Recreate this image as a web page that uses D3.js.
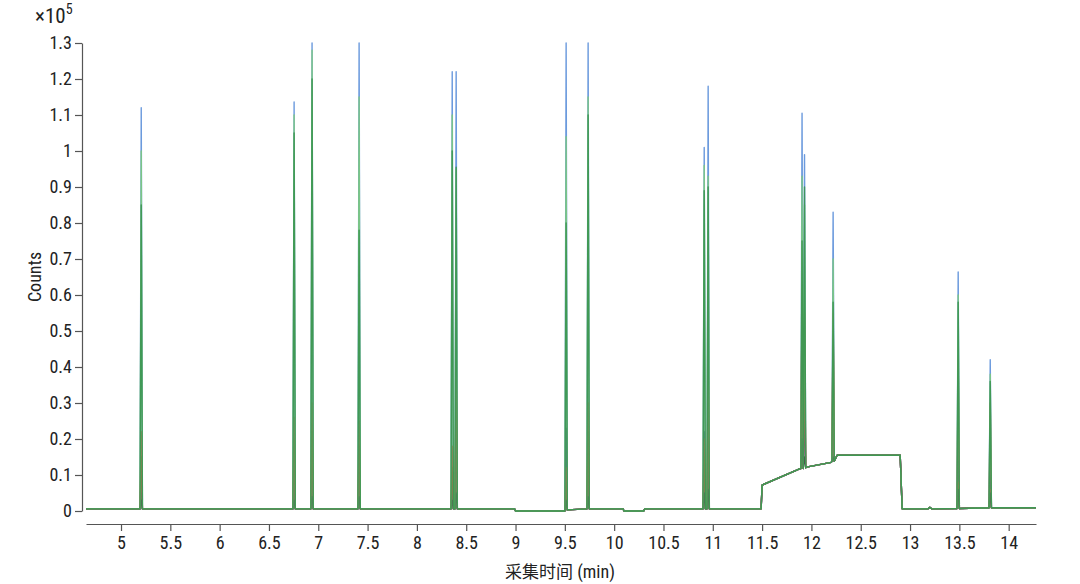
<!DOCTYPE html>
<html><head><meta charset="utf-8">
<script src="https://cdn.jsdelivr.net/npm/d3@7"></script>
<style>
body{margin:0;background:#fff;}
text{font-family:"Liberation Sans Narrow","Roboto Condensed","Liberation Sans",sans-serif;fill:#222;}
</style></head>
<body><svg id="c" width="1080" height="584"></svg>
<script>
// ---- data (Counts in units of 1e5, time in min) ----
const xTicks = [5,5.5,6,6.5,7,7.5,8,8.5,9,9.5,10,10.5,11,11.5,12,12.5,13,13.5,14];
const yTicks = [0,0.1,0.2,0.3,0.4,0.5,0.6,0.7,0.8,0.9,1,1.1,1.2,1.3];

const baseT = [4.645, 8.99, 9.0, 9.5, 9.52, 10.09, 10.1, 10.3, 10.31, 11.49, 11.5, 11.88, 11.95, 12.2, 12.26, 12.9, 12.92, 13.18, 13.2, 13.22, 13.9, 14.277];
const baseV = [0.006, 0.006, 0.0, 0.0, 0.006, 0.006, 0.0, 0.0, 0.006, 0.006, 0.072, 0.117, 0.122, 0.135, 0.155, 0.155, 0.006, 0.006, 0.01, 0.006, 0.009, 0.009];

const peakTimes = [5.205, 6.755, 6.937, 7.414, 8.358, 8.398, 9.513, 9.736, 10.913, 10.953, 11.905, 11.93, 12.22, 13.488, 13.813];
const peakBase  = [0.006, 0.006, 0.006, 0.006, 0.006, 0.006, 0.003, 0.006, 0.006, 0.006, 0.118, 0.12, 0.138, 0.007, 0.009];

const blue      = [1.12, 1.136, 1.30, 1.30, 1.22, 1.22, 1.30, 1.30, 1.01, 1.18, 1.105, 0.99, 0.83, 0.664, 0.42];
const purple    = [0.10, 0.12, 0.15, 0.15, 0.10, 0.35, 0.06, 0.15, 0.12, 0.20, 0.35, 0.40, 0.40, 0.27, 0.20];
const darkblue  = [0.05, 0.06, 0.08, 0.10, 0.08, 0.25, 0.23, 0.10, 0.22, 0.15, 0.30, 0.28, 0.27, 0.14, 0.10];
const red       = [0.22, 0.26, 0.30, 0.25, 0.18, 0.40, 0.12, 0.30, 0.20, 0.42, 0.62, 0.55, 0.55, 0.08, 0.06];
const brown     = [0.15, 0.20, 0.22, 0.18, 0.12, 0.30, 0.08, 0.22, 0.15, 0.30, 0.60, 0.50, 0.50, 0.42, 0.30];
const black     = [0.03, 0.03, 0.04, 0.04, 0.03, 0.05, 0.03, 0.04, 0.05, 0.06, 0.20, 0.15, 0.15, 0.06, 0.05];
const lightgreen= [1.00, 1.10, 1.28, 1.15, 1.10, 0.95, 1.04, 1.15, 0.96, 0.93, 0.93, 0.85, 0.70, 0.60, 0.38];
const green     = [0.85, 1.05, 1.20, 0.78, 1.00, 0.955, 0.80, 1.10, 0.89, 0.90, 0.75, 0.90, 0.58, 0.58, 0.36];

const series = [
  {name:"blue", color:"#5b8fd9", v:blue},
  {name:"purple", color:"#8e44ad", v:purple},
  {name:"darkblue", color:"#2f3f9f", v:darkblue},
  {name:"red", color:"#e8413c", v:red},
  {name:"brown", color:"#b0533a", v:brown},
  {name:"black", color:"#444444", v:black},
  {name:"lightgreen", color:"#7cca7c", v:lightgreen},
  {name:"green", color:"#3a9450", v:green}
];

// ---- layout ----
const svg = d3.select("#c");
const x = d3.scaleLinear().domain([4.645, 14.277]).range([86, 1036]);
const y = d3.scaleLinear().domain([0, 1.3]).range([511, 43]);
const hw = 0.012;

function buildTrace(vals){
  const pts = [];
  baseT.forEach((t,i)=>{
    const inPeak = peakTimes.some((p,j)=> vals[j] > peakBase[j] && Math.abs(t-p) <= hw);
    if(!inPeak) pts.push([t, baseV[i]]);
  });
  peakTimes.forEach((p,j)=>{
    if(vals[j] > peakBase[j]){
      pts.push([p-hw, peakBase[j]]);
      pts.push([p, vals[j]]);
      pts.push([p+hw, peakBase[j]]);
    }
  });
  pts.sort((a,b)=>a[0]-b[0]);
  return pts;
}

const line = d3.line().x(d=>x(d[0])).y(d=>y(d[1]));
const g = svg.append("g");
series.forEach(s=>{
  g.append("path").attr("d", line(buildTrace(s.v)))
   .attr("fill","none").attr("stroke", s.color).attr("stroke-width",1.4)
   .attr("stroke-linejoin","round").attr("opacity",0.9);
});

// ---- axes ----
const yAxis = svg.append("g").attr("transform","translate(82,0)")
  .call(d3.axisLeft(y).tickValues(yTicks).tickFormat(d=>d3.format("~g")(d)).tickSize(7).tickSizeOuter(0));
const xAxis = svg.append("g").attr("transform","translate(0,524)")
  .call(d3.axisBottom(x).tickValues(xTicks).tickFormat(d=>d3.format("~g")(d)).tickSize(7).tickSizeOuter(0));
[yAxis, xAxis].forEach(a=>{
  a.select(".domain").attr("stroke","#555").attr("stroke-width",1.2);
  a.selectAll(".tick line").attr("stroke","#555").attr("stroke-width",1.2);
  a.selectAll(".tick text").attr("font-size",18).attr("fill","#222")
   .attr("font-family",'"Liberation Sans Narrow","Roboto Condensed",sans-serif');
});
yAxis.selectAll(".tick text").attr("x",-10);
xAxis.selectAll(".tick text").attr("y",12);

// ---- labels ----
svg.append("text").attr("x",35).attr("y",23).attr("font-size",21).text("×10")
  .append("tspan").attr("dy",-9).attr("font-size",14).text("5");
svg.append("text").attr("transform","translate(41,277) rotate(-90)")
  .attr("text-anchor","middle").attr("font-size",18).text("Counts");
svg.append("text").attr("x",560).attr("y",578).attr("text-anchor","middle").attr("font-size",18)
  .html('<tspan font-family="Noto Sans CJK SC" font-size="17">采集时间</tspan> (min)');
</script></body></html>
